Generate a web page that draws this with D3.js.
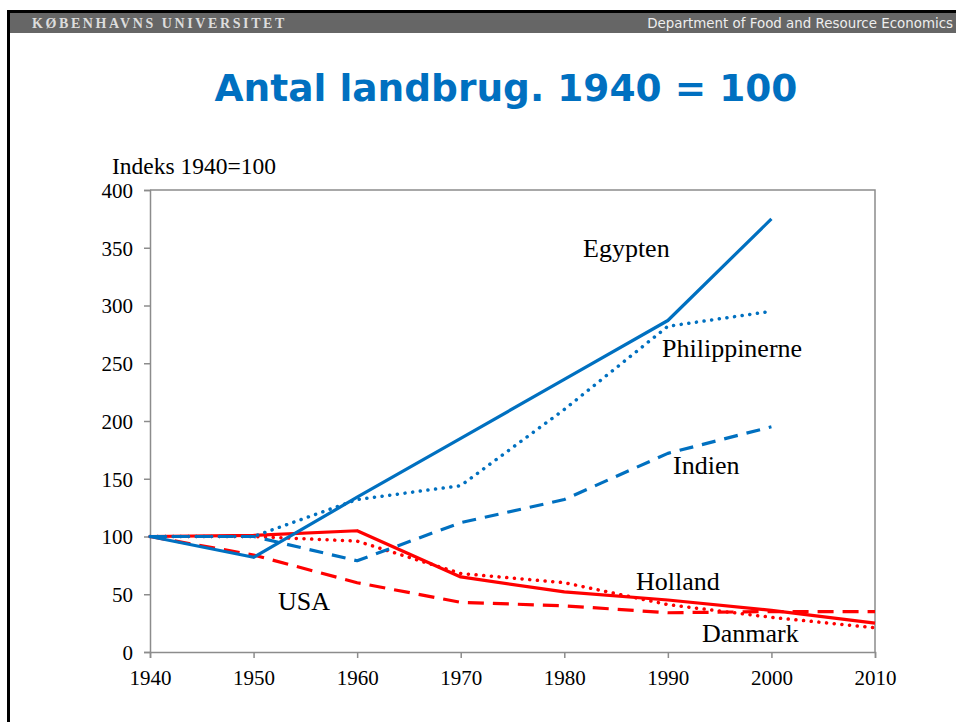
<!DOCTYPE html>
<html>
<head>
<meta charset="utf-8">
<script src="https://cdn.jsdelivr.net/npm/d3@7"></script>
<style>
  body { margin: 0; background: #fff; }
  svg { display: block; }
</style>
</head>
<body>
<div id="chart"></div>
<script>
// years on the x axis
const years = [1940, 1950, 1960, 1970, 1980, 1990, 2000, 2010];

// index values, 1940 = 100 (null = no observation)
const egypten = [100, 82, 134, 185, 236, 287, 375, null];
const philippinerne = [100, 100, 132, 144, 210, 282, 295, null];
const indien = [100, 100, 79, 112, 132, 172, 195, null];
const holland = [100, 101, 105, 65, 52, 45, 36, 25];
const danmark = [100, 100, 96, 68, 60, 41, 30, 21];
const usa = [100, 84, 60, 43, 40, 34, 35, 35];

const yTicks = [0, 50, 100, 150, 200, 250, 300, 350, 400];

const series = [
  { name: 'Egypten', values: egypten, color: '#0070C0', dash: null },
  { name: 'Philippinerne', values: philippinerne, color: '#0070C0', dash: 'dot' },
  { name: 'Indien', values: indien, color: '#0070C0', dash: 'dash' },
  { name: 'Holland', values: holland, color: '#FF0000', dash: null },
  { name: 'Danmark', values: danmark, color: '#FF0000', dash: 'dot' },
  { name: 'USA', values: usa, color: '#FF0000', dash: 'dash' }
];

// label positions (text anchor start)
const labels = [
  { text: 'Egypten', x: 583, y: 257 },
  { text: 'Philippinerne', x: 662, y: 357 },
  { text: 'Indien', x: 673, y: 474 },
  { text: 'Holland', x: 636, y: 590 },
  { text: 'USA', x: 278, y: 610 },
  { text: 'Danmark', x: 702, y: 642 }
];

const width = 956, height = 722;
const svg = d3.select('#chart').append('svg')
    .attr('width', width)
    .attr('height', height);

// frame + header bar
svg.append('rect').attr('x', 7).attr('y', 10).attr('width', width - 7).attr('height', 3).attr('fill', '#000');
svg.append('rect').attr('x', 7).attr('y', 10).attr('width', 3).attr('height', height - 10).attr('fill', '#000');
svg.append('rect').attr('x', 10).attr('y', 13).attr('width', width - 10).attr('height', 20).attr('fill', '#666');

svg.append('text')
    .attr('x', 32).attr('y', 28)
    .attr('font-family', 'Liberation Serif, serif')
    .attr('font-size', '14px')
    .attr('font-weight', 'bold')
    .attr('letter-spacing', '2.6px')
    .attr('fill', '#ddd')
    .text('KØBENHAVNS UNIVERSITET');

svg.append('text')
    .attr('x', 953).attr('y', 28)
    .attr('text-anchor', 'end')
    .attr('font-family', 'DejaVu Sans, sans-serif')
    .attr('font-size', '13.4px')
    .attr('fill', '#eee')
    .text('Department of Food and Resource Economics');

// title
svg.append('text')
    .attr('x', 506).attr('y', 101)
    .attr('text-anchor', 'middle')
    .attr('font-family', 'DejaVu Sans, sans-serif')
    .attr('font-weight', 'bold')
    .attr('font-size', '37.5px')
    .attr('fill', '#0070C0')
    .text('Antal landbrug. 1940 = 100');

// scales
const x = d3.scaleLinear().domain([1940, 2010]).range([150, 875]);
const y = d3.scaleLinear().domain([0, 400]).range([652, 190]);

// plot box (top + right)
svg.append('path')
    .attr('d', 'M' + x(1940) + ',' + y(400) + 'H' + x(2010) + 'V' + y(0))
    .attr('fill', 'none')
    .attr('stroke', '#8c8c8c')
    .attr('stroke-width', 1.5);

const yAxis = d3.axisLeft(y).tickValues(yTicks).tickSize(6).tickPadding(11);
const xAxis = d3.axisBottom(x).tickValues(years).tickFormat(d3.format('d')).tickSize(6).tickPadding(8);

const gy = svg.append('g').attr('transform', 'translate(' + x(1940) + ',0)').call(yAxis);
const gx = svg.append('g').attr('transform', 'translate(0,' + y(0) + ')').call(xAxis);

[gx, gy].forEach(function(g) {
  g.selectAll('path, line').attr('stroke', '#8c8c8c').attr('stroke-width', 1.5);
  g.selectAll('text')
      .attr('font-family', 'Liberation Serif, serif')
      .attr('font-size', '21px')
      .attr('fill', '#000');
});
gy.selectAll('text').attr('dy', '0.35em');
gx.selectAll('text').attr('dy', '0.9em');

// y axis caption
svg.append('text')
    .attr('x', 112).attr('y', 174)
    .attr('font-family', 'Liberation Serif, serif')
    .attr('font-size', '23.5px')
    .attr('fill', '#000')
    .text('Indeks 1940=100');

// lines
const line = d3.line()
    .defined(function(d) { return d != null; })
    .x(function(d, i) { return x(years[i]); })
    .y(function(d) { return y(d); });

const drawOrder = [5, 4, 3, 2, 1, 0];
drawOrder.forEach(function(k) {
  const s = series[k];
  const p = svg.append('path')
      .datum(s.values)
      .attr('d', line)
      .attr('fill', 'none')
      .attr('stroke', s.color)
      .attr('stroke-width', s.dash === 'dot' ? 3.5 : 3.2)
      .attr('stroke-linejoin', 'round');
  if (s.dash === 'dash') {
    p.attr('stroke-dasharray', s.color === '#FF0000' ? '16,9' : '14,9');
  } else if (s.dash === 'dot') {
    p.attr('stroke-dasharray', '0.1,7.6').attr('stroke-linecap', 'round');
  }
});

// series labels
svg.selectAll('.series-label')
    .data(labels)
    .enter().append('text')
    .attr('class', 'series-label')
    .attr('x', function(d) { return d.x; })
    .attr('y', function(d) { return d.y; })
    .attr('font-family', 'Liberation Serif, serif')
    .attr('font-size', '26px')
    .attr('fill', '#000')
    .text(function(d) { return d.text; });
</script>
</body>
</html>
